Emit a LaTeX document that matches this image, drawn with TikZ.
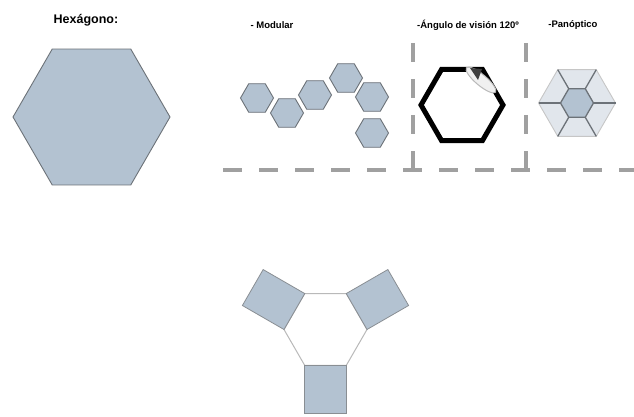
\documentclass[tikz,border=0pt]{standalone}
\usepackage{fontspec}
\setmainfont{Liberation Sans}
\usetikzlibrary{shapes.geometric,calc}
\definecolor{hexfill}{HTML}{B3C2D1}
\definecolor{hexline}{HTML}{6C7278}
\definecolor{dashgray}{HTML}{A0A0A0}
\definecolor{panlight}{HTML}{E1E6EC}

\begin{document}
\begin{tikzpicture}[x=1pt, y=-1pt,
		hexa/.style={regular polygon, regular polygon sides=6, outer sep=0pt, inner sep=0pt, draw=hexline, fill=hexfill, line width=0.9pt},
		title/.style={font=\bfseries\fontsize{9.5}{11}\selectfont, inner sep=0pt},
		divider/.style={dashgray, line width=4.5pt, dash pattern=on 19pt off 17pt},
		spoke/.style={hexline, line width=1.3pt},
		wing/.style={draw=hexline!80, fill=hexfill, line width=0.8pt}]
	\useasboundingbox (0,0) rectangle (634,417);

	% hexagono
	\node[title, font=\bfseries\fontsize{12.5}{14}\selectfont] (t-hex) at (86,20) {Hexágono:};
	\node[hexa, minimum size=157pt] (big) at (91.5,117) {};

	% separadores
	\draw[divider] (223,170) -- (634,170);
	\draw[divider] (413,43) -- (413,180);
	\draw[divider] (526,43) -- (526,180);

	% modular
	\node[title] (t-mod) at (272,25) {- Modular};
	\node[hexa, minimum size=33pt] (m1) at (257,98) {};
	\node[hexa, minimum size=33pt] (m2) at (287,113) {};
	\node[hexa, minimum size=33pt] (m3) at (315,95) {};
	\node[hexa, minimum size=33pt] (m4) at (346,78) {};
	\node[hexa, minimum size=33pt] (m5) at (372,97) {};
	\node[hexa, minimum size=33pt] (m6) at (372,133) {};

	% angulo de vision
	\node[title] (t-ang) at (468,25) {-Ángulo de visión 120º};
	\node[regular polygon, regular polygon sides=6, minimum size=82pt, outer sep=0pt,
		draw=black, line width=5pt] (ang) at (462,105) {};
	\node[ellipse, minimum width=38pt, minimum height=11pt, inner sep=0pt, rotate=-40,
		draw=gray!55, fill=gray!12, line width=1pt] (cam) at (481,80) {};
	\fill[black!75] (470,68) -- (482,69) -- (478,80) -- cycle;

	% panoptico
	\node[title] (t-pan) at (573,25) {-Panóptico};
	\node[hexa, minimum size=77pt, fill=panlight, draw=gray!45] (pan) at (577,103) {};
	\foreach \i in {1,...,6}
		\draw[spoke] (pan.corner \i) -- ($(pan.center)!0.42!(pan.corner \i)$);
	\node[hexa, minimum size=33pt, line width=1.3pt] (pan-in) at (577,103) {};

	% hexagono con modulos
	\node[regular polygon, regular polygon sides=6, minimum size=83pt, outer sep=0pt,
		draw=gray!55, fill=white, line width=1pt] (hc) at (325.5,329.5) {};
	\draw[wing] (hc.240) -- (hc.300) -- ++(0,48) -- ($(hc.240)+(0,48)$) -- cycle;
	\draw[wing] (hc.180) -- (hc.120) -- ++(-41.6,-24) -- ($(hc.180)+(-41.6,-24)$) -- cycle;
	\draw[wing] (hc.0) -- (hc.60) -- ++(41.6,-24) -- ($(hc.0)+(41.6,-24)$) -- cycle;
\end{tikzpicture}
\end{document}
